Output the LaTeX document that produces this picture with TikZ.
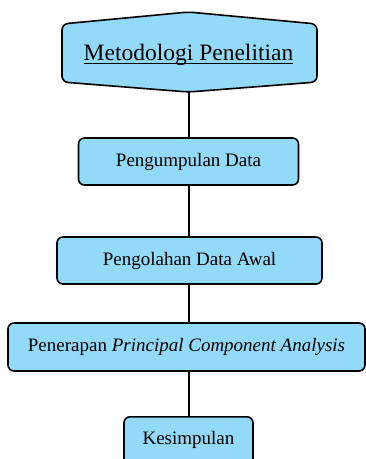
\documentclass[tikz,border=0pt]{standalone}
\usepackage{fontspec}
\setmainfont{Liberation Serif}
\definecolor{boxblue}{HTML}{93D9F8}
\begin{document}
\begin{tikzpicture}[x=1pt,y=-1pt,
  flowbox/.style={draw=black,line width=1.6pt,fill=boxblue,rounded corners=6pt},
  lbl/.style={font=\fontsize{19}{22}\selectfont,inner sep=0pt},
  conn/.style={draw=black,line width=2pt}]
\useasboundingbox (0,0) rectangle (366,459);
\clip (0,0) rectangle (366,459);
% title hexagon
\draw[flowbox] (188.5,12) -- (317,24) -- (317,82) -- (188.5,92) -- (62,82) -- (62,24) -- cycle;
\coordinate (tbot) at (188.5,92);
\node[inner sep=0pt,font=\fontsize{23.5}{27}\selectfont,anchor=base] (title) at (188.5,60) {Metodologi Penelitian};
\draw[line width=1pt] ([yshift=-3pt]title.base west) -- ([yshift=-3pt]title.base east);
% boxes
\node[flowbox,minimum width=220pt,minimum height=47pt,lbl] (b1) at (188.5,161.5) {Pengumpulan Data};
\node[flowbox,minimum width=265pt,minimum height=47pt,lbl] (b2) at (189.5,260.5) {Pengolahan Data Awal};
\node[flowbox,minimum width=357pt,minimum height=48pt,lbl] (b3) at (186.5,347) {Penerapan \textit{Principal Component Analysis}};
\node[flowbox,minimum width=129pt,minimum height=58pt,lbl,anchor=north] (b4) at (188.5,416) {};
\node[lbl] (b4t) at (188.5,440) {Kesimpulan};
% connectors
\draw[conn] (tbot) -- (b1.north);
\draw[conn] (b1.south) -- (b1.south |- b2.north);
\draw[conn] (b1.south |- b2.south) -- (b1.south |- b3.north);
\draw[conn] (b1.south |- b3.south) -- (b4.north);
\end{tikzpicture}
\end{document}
